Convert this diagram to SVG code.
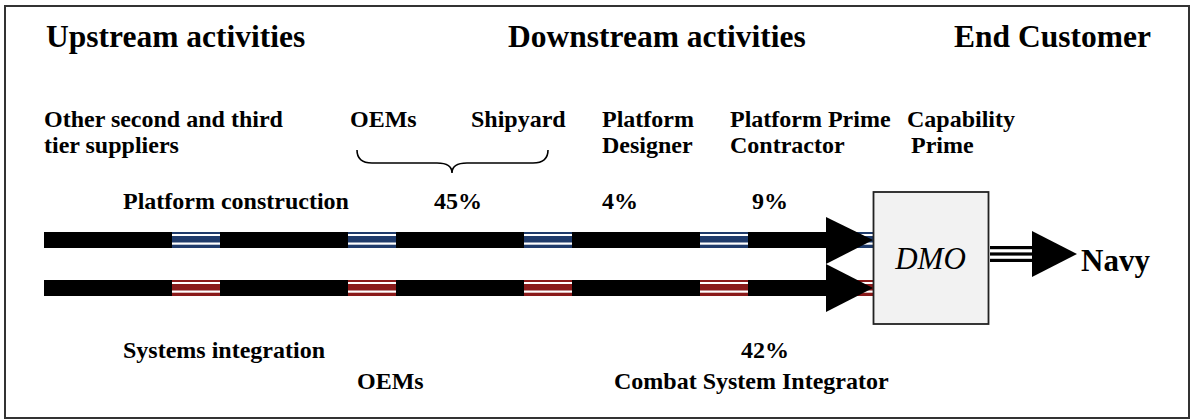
<svg xmlns="http://www.w3.org/2000/svg" width="1192" height="420" viewBox="0 0 1192 420">
  <style>
    text { font-family: "Liberation Serif", "Times New Roman", serif; fill: #000; }
    .hdr { font-size: 31.5px; font-weight: bold; }
    .lbl { font-size: 24px; font-weight: bold; }
    .dmo { font-size: 31px; font-style: italic; }
    .navy { font-size: 31px; font-weight: bold; }
  </style>
  <defs>
    <g id="stripeBlue">
      <rect x="0" y="0" width="48" height="16" fill="#1f3b6b"/>
      <rect x="0" y="2" width="48" height="2" fill="#ffffff"/>
      <rect x="0" y="10.5" width="48" height="2.2" fill="#ffffff"/>
    </g>
    <g id="stripeRed">
      <rect x="0" y="0" width="48" height="16" fill="#8a1a1a"/>
      <rect x="0" y="2" width="48" height="2" fill="#ffffff"/>
      <rect x="0" y="10.5" width="48" height="2.2" fill="#ffffff"/>
    </g>
  </defs>

  <rect id="frame" x="5" y="6" width="1184" height="412" fill="#ffffff" stroke="#333333" stroke-width="2"/>

  <g id="headers">
    <text class="hdr" x="46" y="47">Upstream activities</text>
    <text class="hdr" x="508" y="47">Downstream activities</text>
    <text class="hdr" x="954" y="47">End Customer</text>
  </g>

  <g id="node-suppliers">
    <text class="lbl" x="44" y="127">Other second and third</text>
    <text class="lbl" x="44" y="153">tier suppliers</text>
  </g>
  <g id="node-oems-top">
    <text class="lbl" x="350" y="127">OEMs</text>
  </g>
  <g id="node-shipyard">
    <text class="lbl" x="471" y="127">Shipyard</text>
  </g>
  <g id="node-designer">
    <text class="lbl" x="602" y="127">Platform</text>
    <text class="lbl" x="602" y="153">Designer</text>
  </g>
  <g id="node-prime-contractor">
    <text class="lbl" x="730" y="127">Platform Prime</text>
    <text class="lbl" x="730" y="153">Contractor</text>
  </g>
  <g id="node-capability-prime">
    <text class="lbl" x="907" y="127">Capability</text>
    <text class="lbl" x="911" y="153">Prime</text>
  </g>
  <g id="brace">
    <path d="M357,150 Q357,163 372,163 L437,163 Q452,163 452,173 Q452,163 467,163 L533,163 Q548,163 548,150" fill="none" stroke="#000" stroke-width="1.6"/>
  </g>

  <g id="node-platform-construction">
    <text class="lbl" x="123" y="209">Platform construction</text>
    <text class="lbl" x="434" y="209">45%</text>
    <text class="lbl" x="602" y="209">4%</text>
    <text class="lbl" x="752" y="209">9%</text>
  </g>

  <g id="connectors">
    <g id="flow-platform">
      <rect x="44" y="232" width="784" height="16" fill="#000"/>
      <use href="#stripeBlue" x="172" y="232"/>
      <use href="#stripeBlue" x="348" y="232"/>
      <use href="#stripeBlue" x="524" y="232"/>
      <use href="#stripeBlue" x="700" y="232"/>
      <use href="#stripeBlue" x="828" y="232"/>
      <polygon points="826,217 873,240 826,264" fill="#000"/>
    </g>
    <g id="flow-systems">
      <rect x="44" y="280" width="784" height="16" fill="#000"/>
      <use href="#stripeRed" x="172" y="280"/>
      <use href="#stripeRed" x="348" y="280"/>
      <use href="#stripeRed" x="524" y="280"/>
      <use href="#stripeRed" x="700" y="280"/>
      <use href="#stripeRed" x="828" y="280"/>
      <polygon points="826,264 873,288 826,312" fill="#000"/>
    </g>
    <g id="flow-navy">
      <rect x="990" y="246" width="42" height="3.2" fill="#000"/>
      <rect x="990" y="252.4" width="42" height="3.2" fill="#000"/>
      <rect x="990" y="258.8" width="42" height="3.2" fill="#000"/>
      <polygon points="1032,231 1077,254 1032,277" fill="#000"/>
    </g>
  </g>

  <g id="node-dmo">
    <rect x="873.5" y="192" width="115" height="132" fill="#f2f2f2" stroke="#222" stroke-width="1.8"/>
    <text class="dmo" x="930.5" y="269" text-anchor="middle">DMO</text>
  </g>
  <g id="node-navy">
    <text class="navy" x="1081" y="271">Navy</text>
  </g>

  <g id="node-systems-integration">
    <text class="lbl" x="123" y="358">Systems integration</text>
    <text class="lbl" x="357" y="389">OEMs</text>
  </g>
  <g id="node-csi">
    <text class="lbl" x="741" y="358">42%</text>
    <text class="lbl" x="614" y="389">Combat System Integrator</text>
  </g>
</svg>
